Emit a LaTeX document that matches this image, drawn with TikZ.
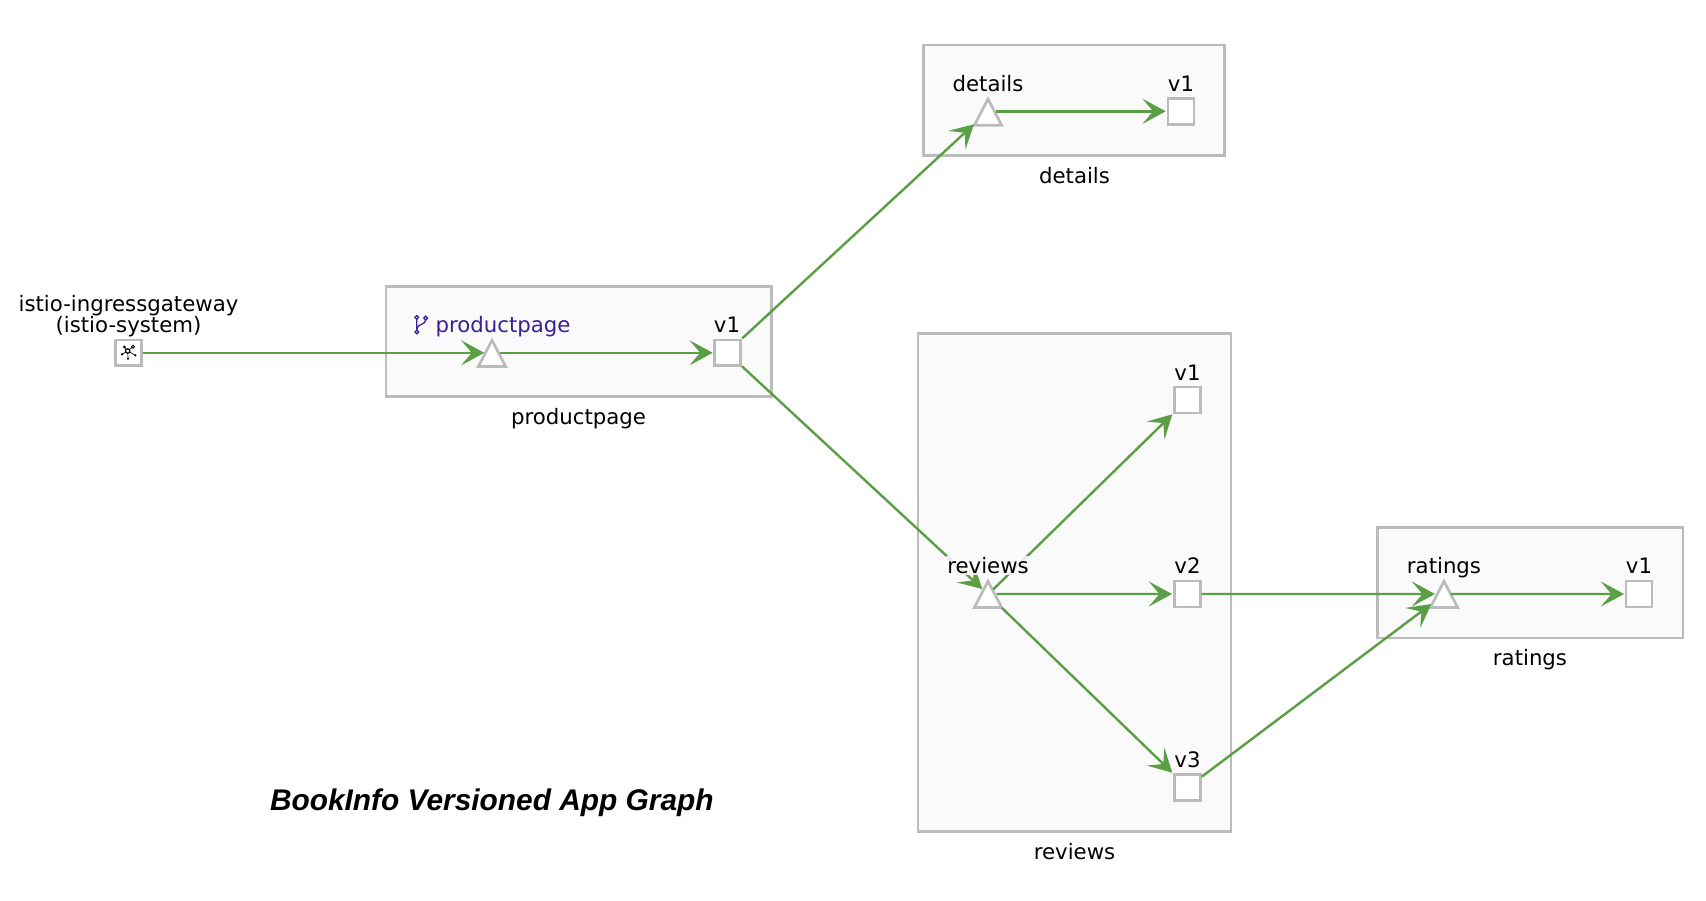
\documentclass[tikz,border=0pt]{standalone}
\usepackage{fontspec}
\setmainfont{DejaVu Sans}
\newfontfamily\titlefont{Liberation Sans}
\usetikzlibrary{arrows.meta,shapes.geometric}
\definecolor{boxfill}{HTML}{FAFAFA}
\definecolor{boxline}{HTML}{BBBBBB}
\definecolor{edgegreen}{HTML}{5A9E46}
\definecolor{linkpurple}{HTML}{38209A}
\tikzset{
  x=.75pt,y=-.75pt,
  groupbox/.style={draw=boxline,fill=boxfill,line width=2pt,inner sep=0,outer sep=0,line join=miter},
  sqnode/.style={draw=boxline,fill=white,line width=2pt,minimum size=19.4pt,inner sep=0,outer sep=0},
  trinode/.style={draw=boxline,fill=white,line width=2pt,isosceles triangle,isosceles triangle stretches,shape border rotate=90,minimum width=20.5pt,minimum height=19.7pt,inner sep=0,outer sep=0,anchor=apex,line join=miter},
  edge/.style={draw=edgegreen,line width=1.8pt,-{Stealth[length=17.4pt,width=18.8pt,inset=8pt]}},
  lbl/.style={font=\fontsize{15.95pt}{16pt}\selectfont,anchor=base,inner sep=0,outer sep=0,text=black},
  ttl/.style={font=\titlefont\bfseries\itshape\fontsize{22.4pt}{26pt}\selectfont,anchor=base,inner sep=0,text=black},
}
\newcommand{\groupbox}[5]{\node[groupbox,minimum width=#4*.75pt,minimum height=#5*.75pt,anchor=north west] (#1) at (#2,#3) {};}
\begin{document}
\begin{tikzpicture}
\useasboundingbox (0,0) rectangle (1706,900);
% groups
\groupbox{gpp}{385.9}{286.3}{385.5}{110.5}
\groupbox{gdt}{923.8}{45}{301}{110.5}
\groupbox{grv}{917.9}{333.6}{313}{498}
\groupbox{gra}{1377.5}{527.4}{305.5}{110.5}
% workloads
\node[sqnode] (gw) at (128.5,352.8) {};
\node[trinode] (pt) at (492,340.3) {};
\node[sqnode] (pv) at (727.7,352.8) {};
\node[trinode] (dt) at (988,99) {};
\node[sqnode] (dv) at (1181,111.3) {};
\node[trinode] (rt) at (988,581.3) {};
\node[sqnode] (rva) at (1187.5,400) {};
\node[sqnode] (rvb) at (1187.4,594) {};
\node[sqnode] (rvc) at (1187.4,787.7) {};
\node[trinode] (at) at (1444,581.3) {};
\node[sqnode] (av) at (1639,594) {};
% edges
\draw[edge] ([shift={(14.5,0)}]gw.center) -- ([shift={(-7.7,12.5)}]pt.apex);
\draw[edge] ([shift={(8,12.5)}]pt.apex) -- ([shift={(-15,0)}]pv.center);
\draw[edge] ([shift={(14.6,-14.5)}]pv.center) -- ([shift={(-14,25.3)}]dt.apex);
\draw[edge] ([shift={(14.3,13.5)}]pv.center) -- ([shift={(-5.7,7.7)}]rt.apex);
\draw[edge] ([shift={(7.7,12.3)}]dt.apex) -- ([shift={(-15.3,0)}]dv.center);
\draw[edge] ([shift={(5.3,8)}]rt.apex) -- ([shift={(-15.2,14.3)}]rva.center);
\draw[edge] ([shift={(8.7,12.7)}]rt.apex) -- ([shift={(-15.4,0)}]rvb.center);
\draw[edge] ([shift={(13.7,26.4)}]rt.apex) -- ([shift={(-15.1,-15)}]rvc.center);
\draw[edge] ([shift={(14.3,0)}]rvb.center) -- ([shift={(-9,12.7)}]at.apex);
\draw[edge] ([shift={(14.3,-11)}]rvc.center) -- ([shift={(-12.7,22.7)}]at.apex);
\draw[edge] ([shift={(6.7,12.7)}]at.apex) -- ([shift={(-15,0)}]av.center);
% gateway icon
\begin{scope}[shift={(gw.center)},line width=.5pt]
  \foreach \px/\py in {-4.2/-5.8,4.5/-6.1,-6.5/1.5,6.8/2.5,-.5/5.9}
    \draw (-.8,-1.8) -- (\px,\py);
  \fill[white] (-.8,-1.8) circle[radius=2.2];
  \draw[line width=.9pt] (-.8,-1.8) circle[radius=2.2];
  \fill (-4.2,-5.8) circle[radius=1.5];
  \fill (-6.5,1.5) circle[radius=1.2];
  \fill (6.8,2.5) circle[radius=1.2];
  \fill (-.5,5.9) circle[radius=1.1];
  \filldraw[fill=white,line width=.6pt] (4.5,-6.1) circle[radius=1.5];
\end{scope}
% branch icon
\begin{scope}[draw=linkpurple,line width=.95pt]
  \draw (416.7,319.2) -- (416.9,330.2);
  \draw (425.7,320) .. controls (425.5,325) and (417.5,323.5) .. (416.8,329);
  \draw (416.7,317.4) circle[radius=1.9];
  \draw (425.7,318) circle[radius=1.9];
  \draw (416.9,332) circle[radius=1.9];
\end{scope}
% labels
\node[lbl] (gwl) at (128.5,311) {istio-ingressgateway};
\node[lbl] (gwn) at (128.5,332) {(istio-system)};
\node[lbl,anchor=base west,text=linkpurple] (ptl) at (435.5,332.3) {productpage};
\node[lbl] (pvl) at (727,332.3) {v1};
\node[lbl] (gppl) at (578.5,424.5) {productpage};
\node[lbl] (dtl) at (988,91.4) {details};
\node[lbl] (dvl) at (1181,91.4) {v1};
\node[lbl] (gdtl) at (1074.5,183.2) {details};
\node[lbl,fill=boxfill,fill opacity=.85,text opacity=1,inner sep=1pt] (rtl) at (988,573.4) {reviews};
\node[lbl] (rval) at (1187.5,380) {v1};
\node[lbl] (rvbl) at (1187.5,573.4) {v2};
\node[lbl] (rvcl) at (1187.5,767.4) {v3};
\node[lbl] (grvl) at (1074.5,859.8) {reviews};
\node[lbl] (atl) at (1444,573.4) {ratings};
\node[lbl] (avl) at (1639,573.4) {v1};
\node[lbl] (gral) at (1530,665.5) {ratings};
\node[ttl] (title) at (491.8,810) {BookInfo Versioned App Graph};
\end{tikzpicture}
\end{document}
